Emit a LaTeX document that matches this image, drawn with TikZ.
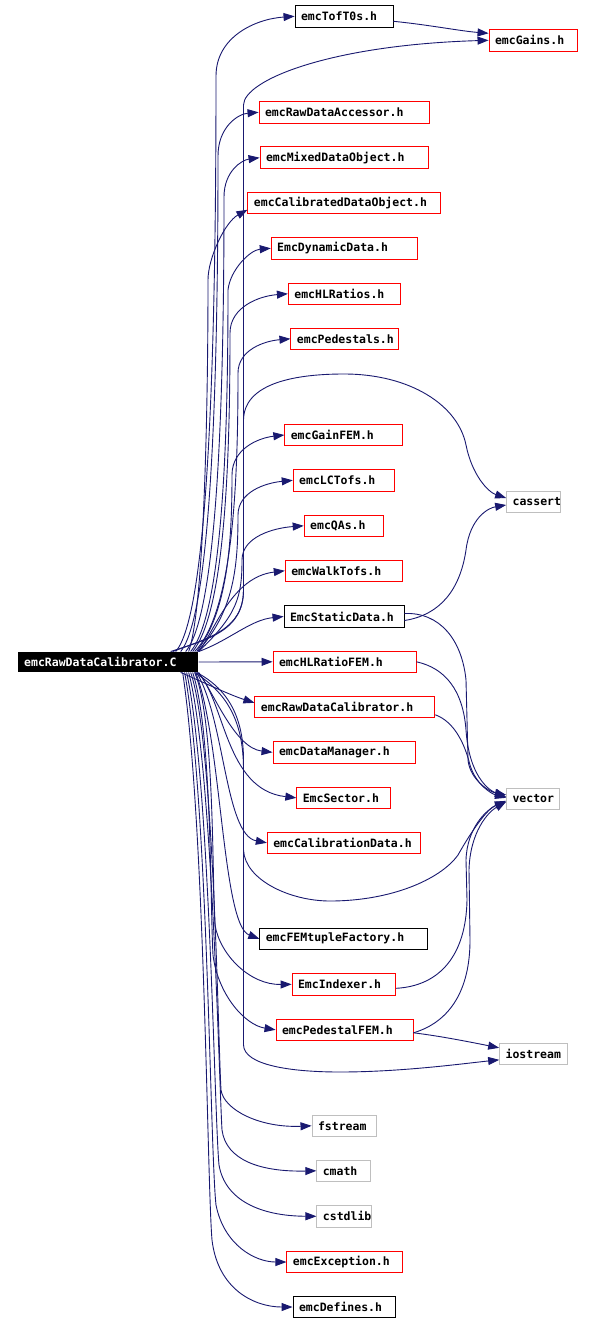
\documentclass[tikz,border=0pt]{standalone}
\usepackage{fontspec}
\newfontfamily\dxfont{DejaVu Sans Mono}
\usetikzlibrary{arrows.meta}
\definecolor{edgec}{RGB}{25,25,112}
\definecolor{graybd}{RGB}{191,191,191}
\newcommand\lbx[2]{\makebox[#1][l]{#2}}
\begin{document}
\begin{tikzpicture}[x=1pt,y=-1pt,
  edge/.style={draw=edgec, line width=0.9pt, -{Triangle[length=11pt,width=8pt]}},
  nd/.style={minimum height=21.5pt, inner xsep=6pt, inner ysep=0pt, line width=0.9pt,
    font=\dxfont\bfseries\fontsize{11.5pt}{13pt}\selectfont},
  rbox/.style={nd, draw=red},
  kbox/.style={nd, draw=black},
  gbox/.style={nd, draw=graybd},
  mbox/.style={nd, fill=black, text=white, minimum height=20pt}
]
\fill[white] (0,0) rectangle (593,1324);
\useasboundingbox (0,0) rectangle (593,1324);

% nodes
\node[mbox] (m) at (108.2,662) {\lbx{168pt}{emcRawDataCalibrator.C}};
\node[kbox] (tof) at (344,16.3) {\lbx{86pt}{emcTofT0s.h}};
\node[rbox] (gains) at (533,40.3) {\lbx{76pt}{emcGains.h}};
\node[rbox] (rda) at (344,112.3) {\lbx{158pt}{emcRawDataAccessor.h}};
\node[rbox] (mix) at (344,157.7) {\lbx{156pt}{emcMixedDataObject.h}};
\node[rbox] (cal) at (344.4,202.8) {\lbx{181pt}{emcCalibratedDataObject.h}};
\node[rbox] (dyn) at (344.2,248.3) {\lbx{134pt}{EmcDynamicData.h}};
\node[rbox] (hlr) at (344.6,293.8) {\lbx{100.5pt}{emcHLRatios.h}};
\node[rbox] (ped) at (344.9,338.8) {\lbx{96pt}{emcPedestals.h}};
\node[rbox] (gfem) at (343.8,435) {\lbx{106pt}{emcGainFEM.h}};
\node[rbox] (lct) at (344,480.3) {\lbx{89.6pt}{emcLCTofs.h}};
\node[rbox] (qas) at (344,525.8) {\lbx{67.7pt}{emcQAs.h}};
\node[rbox] (walk) at (344,570.8) {\lbx{105.5pt}{emcWalkTofs.h}};
\node[kbox] (sdat) at (344,616.5) {\lbx{108pt}{EmcStaticData.h}};
\node[gbox] (cas) at (533.6,502) {\lbx{42pt}{cassert}};
\node[rbox] (hfem) at (344.5,661.8) {\lbx{131pt}{emcHLRatioFEM.h}};
\node[rbox] (rdch) at (344.9,706.8) {\lbx{168pt}{emcRawDataCalibrator.h}};
\node[rbox] (dman) at (344,752.3) {\lbx{130pt}{emcDataManager.h}};
\node[rbox] (sec) at (343.8,797.8) {\lbx{82pt}{EmcSector.h}};
\node[rbox] (calib) at (343.8,842.8) {\lbx{141pt}{emcCalibrationData.h}};
\node[gbox] (vec) at (533,798.8) {\lbx{41pt}{vector}};
\node[kbox] (femtf) at (343.8,938.8) {\lbx{156pt}{emcFEMtupleFactory.h}};
\node[rbox] (idx) at (343.8,984.3) {\lbx{91.5pt}{EmcIndexer.h}};
\node[rbox] (pfem) at (344.5,1029.8) {\lbx{125pt}{emcPedestalFEM.h}};
\node[gbox] (ios) at (533.6,1053.8) {\lbx{56pt}{iostream}};
\node[gbox] (fst) at (344,1125.8) {\lbx{52pt}{fstream}};
\node[gbox] (cmath) at (343.8,1170.8) {\lbx{42pt}{cmath}};
\node[gbox] (cstd) at (344.4,1216.3) {\lbx{43pt}{cstdlib}};
\node[rbox] (exc) at (344.9,1262) {\lbx{104pt}{emcException.h}};
\node[kbox] (def) at (344,1307) {\lbx{90pt}{emcDefines.h}};

% edges from main, upward
\draw[edge] ([xshift=-23pt]m.north east) .. controls (211,612) and (216,306) .. (216,76) .. controls (216,37) and (255,19) .. (tof.west);
\draw[edge] ([xshift=-18pt]m.north east) .. controls (213,612) and (218,354) .. (218,156) .. controls (218,127) and (238,114) .. (rda.west);
\draw[edge] ([xshift=-13pt]m.north east) .. controls (219,612) and (224,379) .. (224,197) .. controls (224,171) and (242,160) .. (mix.west);
\draw[edge] ([xshift=-10pt]m.north east) .. controls (203,612) and (208,429) .. (208,280) .. controls (208,258) and (225,222) .. ([yshift=-7pt]cal.west);
\draw[edge] ([xshift=-8pt]m.north east) .. controls (223,612) and (228,435) .. (228,290) .. controls (230,270) and (250,250) .. (dyn.west);
\draw[edge] ([xshift=-6pt]m.north east) .. controls (225,612) and (230,461) .. (230,333) .. controls (230,307) and (259,296) .. (hlr.west);
\draw[edge] ([xshift=-4pt]m.north east) .. controls (233,612) and (238,485) .. (238,373) .. controls (238,350) and (264,341) .. (ped.west);
\draw[edge] ([xshift=-2pt]m.north east) .. controls (227,612) and (232,546) .. (232,475) .. controls (232,449) and (258,438) .. (gfem.west);
\draw[edge] ([xshift=-1pt]m.north east) .. controls (233,612) and (238,570) .. (238,515) .. controls (238,492) and (265,483) .. (lct.west);
\draw[edge] (m.north east) .. controls (237,615) and (242,597) .. (242,560) .. controls (242,537) and (273,528) .. (qas.west);
\draw[edge] (m.north east) .. controls (215,630) and (232,577) .. (walk.west);
\draw[edge] (m.north east) .. controls (230,640) and (250,620) .. (sdat.west);
\draw[edge] ([xshift=-28pt]m.north east) .. controls (205,640) and (243.5,632) .. (243.5,590) -- (243.5,105) .. controls (244,80) and (330,45) .. (gains.west);
\draw[edge] ([xshift=-26pt]m.north east) .. controls (208,638) and (243.5,630) .. (243.5,590) -- (243.5,420) .. controls (244,385) and (290,374) .. (344,374) .. controls (410,374) and (458,405) .. (466,445) .. controls (472,475) and (488,492) .. ([yshift=4pt]cas.west);

% edges from main, rightward and downward
\draw[edge] (m.east) -- (hfem.west);
\draw[edge] ([xshift=-18pt]m.south east) .. controls (205,683) and (230,695) .. ([yshift=4pt]rdch.west);
\draw[edge] (m.south east) .. controls (215,695) and (235,748) .. (dman.west);
\draw[edge] ([xshift=-1pt]m.south east) .. controls (225,700) and (225,790) .. (sec.west);
\draw[edge] ([xshift=-2pt]m.south east) .. controls (225,720) and (225,835) .. (calib.west);
\draw[edge] ([xshift=-3pt]m.south east) .. controls (222,740) and (222,925) .. (femtf.west);
\draw[edge] ([xshift=-4pt]m.south east) .. controls (215,720) and (212,880) .. (215,925) .. controls (220,955) and (250,985) .. (idx.west);
\draw[edge] ([xshift=-6pt]m.south east) .. controls (212,730) and (210,900) .. (213,955) .. controls (218,995) and (245,1025) .. (pfem.west);
\draw[edge] ([xshift=-8pt]m.south east) .. controls (214,740) and (218,1040) .. (221,1090) .. controls (224,1110) and (260,1128) .. (fst.west);
\draw[edge] ([xshift=-10pt]m.south east) .. controls (212,760) and (219,1080) .. (222,1130) .. controls (226,1160) and (260,1172) .. (cmath.west);
\draw[edge] ([xshift=-12pt]m.south east) .. controls (210,780) and (214,1110) .. (219,1165) .. controls (225,1200) and (260,1216) .. (cstd.west);
\draw[edge] ([xshift=-14pt]m.south east) .. controls (208,800) and (210,1150) .. (216,1205) .. controls (224,1245) and (255,1262) .. (exc.west);
\draw[edge] ([xshift=-16pt]m.south east) .. controls (205,820) and (207,1180) .. (212,1240) .. controls (218,1290) and (255,1307) .. (def.west);
\draw[edge] ([xshift=-2pt]m.south east) .. controls (230,690) and (243.5,720) .. (243.5,760) -- (243.5,850) .. controls (245,880) and (290,901) .. (330,901) .. controls (390,901) and (440,880) .. (458,855) .. controls (472,830) and (488,808) .. ([yshift=-3pt]vec.west);
\draw[edge] ([xshift=-4pt]m.south east) .. controls (230,695) and (243.5,725) .. (243.5,770) -- (243.5,1045) .. controls (244,1065) and (290,1072) .. (340,1072) .. controls (400,1072) and (460,1064) .. ([yshift=-6pt]ios.west);

% secondary edges
\draw[edge] ([yshift=-5pt]tof.east) .. controls (430,25) and (460,31) .. ([yshift=7pt]gains.west);
\draw[edge] ([yshift=-4pt]sdat.east) .. controls (440,615) and (460,590) .. (466,550) .. controls (470,518) and (488,508) .. ([yshift=-3pt]cas.west);
\draw[edge] ([yshift=3pt]sdat.east) .. controls (440,612) and (462,640) .. (466,680) -- (468,760) .. controls (470,780) and (490,792) .. ([yshift=4pt]vec.west);
\draw[edge] (hfem.east) .. controls (445,668) and (463,690) .. (466,730) .. controls (469,775) and (488,790) .. ([yshift=2pt]vec.west);
\draw[edge] ([yshift=-8pt]rdch.east) .. controls (455,722) and (465,745) .. (470,765) .. controls (476,785) and (492,794) .. ([yshift=1pt]vec.west);
\draw[edge] ([yshift=-4pt]idx.east) .. controls (440,986) and (466,955) .. (467,900) -- (466,860) .. controls (467,828) and (486,810) .. ([yshift=-2pt]vec.west);
\draw[edge] ([yshift=-3pt]pfem.east) .. controls (450,1022) and (470,990) .. (470,940) -- (469,870) .. controls (470,832) and (488,812) .. ([yshift=-3pt]vec.west);
\draw[edge] ([yshift=-3pt]pfem.east) .. controls (440,1036) and (470,1042) .. ([yshift=6pt]ios.west);
\end{tikzpicture}
\end{document}
